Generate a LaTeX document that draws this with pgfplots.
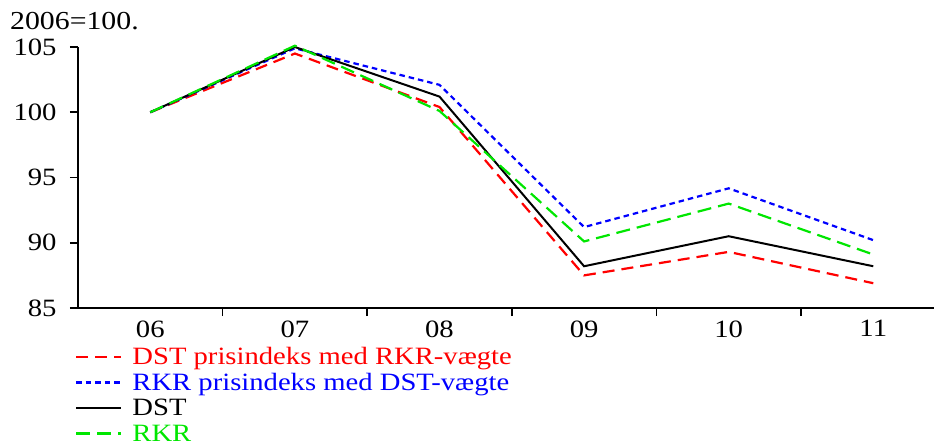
\documentclass[border=0pt]{standalone}
\usepackage{pgfplots}
\pgfplotsset{compat=1.18}
\usepackage{fontspec}
\setmainfont{Liberation Serif}[FakeStretch=1.15]
\definecolor{pgreen}{RGB}{0,230,0}
\begin{document}
\begin{tikzpicture}
\begin{axis}[
 name=ax,
 scale only axis,
 width=856bp, height=261bp,
 xmin=-0.5, xmax=5.42,
 ymin=85, ymax=105,
 axis lines*=left,
 axis line style={-, line width=1.5bp},
 tick align=outside,
 major tick length=8bp,
 tick style={black, line width=1.5bp},
 xtick={0.5,1.5,2.5,3.5,4.5},
 xticklabels={},
 extra x ticks={0,1,2,3,4,5},
 extra x tick labels={06,07,08,09,10,11},
 extra x tick style={major tick length=0pt},
 xticklabel style={yshift=-9bp},
 ytick={85,90,95,100,105},
 yticklabels={85,90,95,100,105},
 yticklabel style={xshift=-10bp},
 tick label style={font=\fontsize{25}{29}\selectfont},
 /pgf/number format/assume math mode=true,
 clip=false,
 legend style={at={(axis description cs:-0.0035,-0.1303)}, anchor=north west,
   draw=none, fill=none, inner sep=0pt, row sep=0pt,
   font=\fontsize{25}{29}\selectfont,
   nodes={inner sep=0pt, text height=22.5bp, text depth=3bp},
   cells={anchor=west}},
 legend image code/.code={\draw[#1] (0bp,-2bp) -- (45bp,-2bp); \path (55bp,-2bp);},
]
\addplot[red, line width=2.2bp, dash pattern=on 12bp off 7bp] coordinates {(0,100)(1,104.5)(2,100.4)(3,87.5)(4,89.3)(5,86.9)};
\addlegendentry{\textcolor{red}{DST prisindeks med RKR-vægte}}
\addplot[blue, line width=2.2bp, dash pattern=on 5.5bp off 4bp] coordinates {(0,100)(1,104.9)(2,102.1)(3,91.2)(4,94.17)(5,90.2)};
\addlegendentry{\textcolor{blue}{RKR prisindeks med DST-vægte}}
\addplot[black, line width=2bp] coordinates {(0,100)(1,105.0)(2,101.2)(3,88.2)(4,90.5)(5,88.2)};
\addlegendentry{DST}
\addplot[pgreen, line width=2.2bp, dash pattern=on 14bp off 7bp] coordinates {(0,100)(1,105.1)(2,100.1)(3,90.1)(4,93.0)(5,89.1)};
\addlegendentry{\textcolor{pgreen}{RKR}}
\end{axis}
\node[anchor=base west, font=\fontsize{26}{30}\selectfont, inner sep=0pt] at ([shift={(-68bp,17bp)}]ax.north west) {2006=100.};
\pgfresetboundingbox
\path ([shift={(-78bp,-140bp)}]ax.south west) rectangle ([shift={(0bp,47bp)}]ax.north east);
\end{tikzpicture}
\end{document}
